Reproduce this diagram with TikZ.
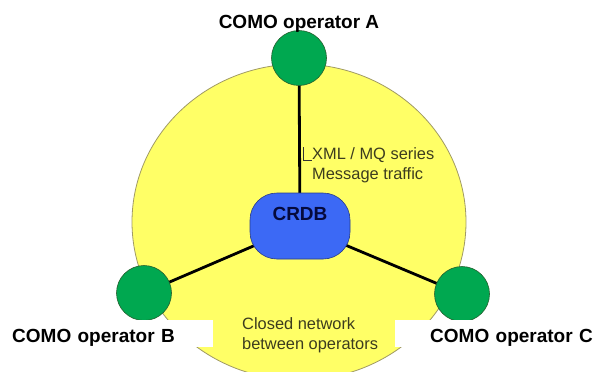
\documentclass[tikz,border=0pt]{standalone}
\usepackage{fontspec}
\setmainfont{Liberation Sans}
\definecolor{netyellow}{RGB}{255,255,102}
\definecolor{netline}{RGB}{160,154,100}
\definecolor{opgreen}{RGB}{0,168,80}
\definecolor{opgreenline}{RGB}{35,95,45}
\definecolor{hubblue}{RGB}{60,105,245}
\definecolor{hubline}{RGB}{40,60,140}
\definecolor{hubtext}{RGB}{5,10,60}
\definecolor{notetext}{RGB}{60,60,30}
\pgfdeclarelayer{back}
\pgfdeclarelayer{links}
\pgfsetlayers{back,links,main}
\tikzstyle{operator} = [circle, draw=opgreenline, fill=opgreen, line width=0.6pt, minimum size=55pt, inner sep=0pt]
\tikzstyle{hub} = [rectangle, rounded corners=27pt, draw=hubline, fill=hubblue, line width=0.6pt, minimum width=100pt, minimum height=66pt, font=\fontsize{19}{22}\selectfont\bfseries, text=hubtext, text height=14pt, text depth=26pt]
\tikzstyle{oplabel} = [font=\fontsize{19}{22}\selectfont\bfseries, inner sep=0pt]
\tikzstyle{opbox} = [oplabel, fill=white, minimum height=27pt, text height=19pt, text depth=2pt]
\tikzstyle{note} = [font=\fontsize{16.4}{20}\selectfont, text=notetext, align=left, inner sep=0pt]
\tikzstyle{link} = [line width=2.8pt, black]
\tikzstyle{callout} = [line width=0.7pt, black!80]

\begin{document}
\begin{tikzpicture}[x=1pt, y=-1pt]
        \useasboundingbox (0,0) rectangle (597,372);

        % closed network between the operators
        \begin{pgfonlayer}{back}
            \draw [draw=netline, fill=netyellow, line width=0.8pt] (299,222) ellipse [x radius=167pt, y radius=158pt];
        \end{pgfonlayer}

        \node (opA) [operator] at (299,58) {};
        \node (opB) [operator] at (144,293) {};
        \node (opC) [operator] at (462,294) {};
        \node (crdb) [hub] at (300,226) {CRDB};

        % operator names
        \node (labA) [oplabel, anchor=base] at (299,28) {COMO operator A};
        \node (labB) [opbox, anchor=west, text width=189pt, inner xsep=12pt, align=left] at (0,333.5) {COMO operator B};
        \node (labC) [opbox, anchor=east, text width=194pt, inner xsep=4pt, align=right] at (597,333.5) {COMO operator C};

        % message links to the hub
        \begin{pgfonlayer}{links}
            \draw [link] (opA.center) -- (crdb.center);
            \draw [link] (opB.center) -- (crdb.center);
            \draw [link] (opC.center) -- (crdb.center);
        \end{pgfonlayer}

        \node (traffic) [note, anchor=west] at (312,165) {XML / MQ series\\Message traffic};
        \coordinate (tick) at (303.5,147);
        \draw [callout] (tick) |- ([yshift=5pt]traffic.west);

        \node (closednet) [note, anchor=west] at (242,335) {Closed network\\between operators};

    \end{tikzpicture}
\end{document}
